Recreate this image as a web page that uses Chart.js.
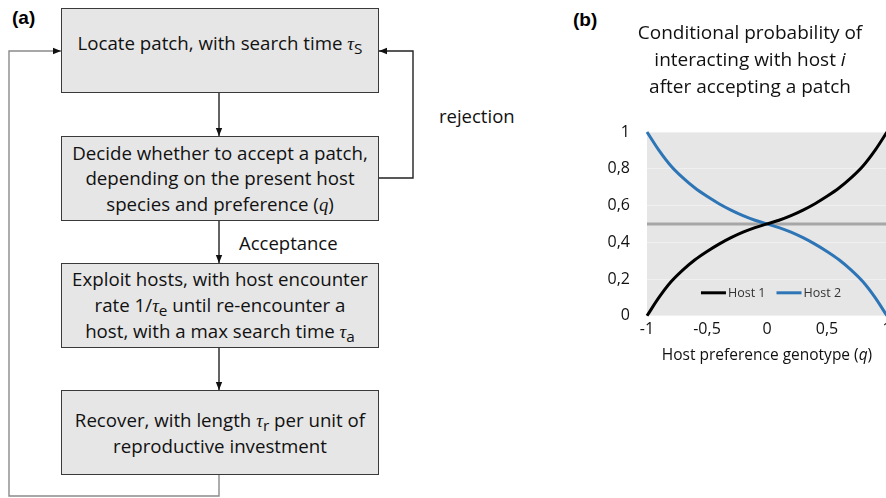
<!DOCTYPE html>
<html>
<head>
<meta charset="utf-8">
<script src="https://cdn.jsdelivr.net/npm/chart.js@4.4.0/dist/chart.umd.min.js"></script>
<style>
html, body { margin: 0; padding: 0; background: #fff; }
body { width: 886px; height: 498px; position: relative; overflow: hidden; font-family: 'Open Sans', sans-serif; color: #111; }
.panel-label { position: absolute; font-family: 'Liberation Sans', Arial, sans-serif; font-weight: bold; font-size: 19px; line-height: 24px; color: #000; }
.box { position: absolute; left: 61px; width: 318px; height: 85px; box-sizing: border-box; border: 1.5px solid #3a3a3a; background: #e6e6e6; display: flex; align-items: center; justify-content: center; text-align: center; font-size: 18.7px; line-height: 25.5px; }
.m { font-family: 'Liberation Serif', serif; font-style: italic; }
sub { font-size: 0.82em; line-height: 0; vertical-align: -0.28em; }
.note { position: absolute; font-size: 18.5px; line-height: 24px; }
#flow { position: absolute; left: 0; top: 0; }
#wrap { position: absolute; left: 596px; top: 0; width: 308px; height: 372px; }
</style>
</head>
<body>

<svg id="flow" width="560" height="498">
  <defs>
    <marker id="arr" viewBox="0 0 10 10" refX="10" refY="5" markerWidth="8" markerHeight="8" markerUnits="userSpaceOnUse" orient="auto">
      <path d="M0 1 L10 5 L0 9 z" fill="#111"/>
    </marker>
  </defs>
  <g fill="none" stroke="#222" stroke-width="1.4">
    <path d="M219 93 V136" marker-end="url(#arr)"/>
    <path d="M219 221 V263" marker-end="url(#arr)"/>
    <path d="M219 348 V390" marker-end="url(#arr)"/>
    <path d="M379 178 H413 V51 H379" marker-end="url(#arr)"/>
  </g>
  <path d="M219 475 V496 H9 V51 H61" fill="none" stroke="#8a8a8a" stroke-width="1.4" marker-end="url(#arr)"/>
</svg>

<div class="panel-label" style="left:12px; top:6px;">(a)</div>
<div class="panel-label" style="left:573px; top:8px;">(b)</div>

<div class="box" style="top:8px; align-items:flex-start; padding-top:21px;">
  <div>Locate patch, with search time <span class="m">τ</span><sub>S</sub></div>
</div>
<div class="box" style="top:136px;">
  <div>Decide whether to accept a patch,<br>depending on the present host<br>species and preference (<span class="m">q</span>)</div>
</div>
<div class="box" style="top:263px;">
  <div>Exploit hosts, with host encounter<br>rate 1/<span class="m">τ</span><sub>e</sub> until re-encounter a<br>host, with a max search time <span class="m">τ</span><sub>a</sub></div>
</div>
<div class="box" style="top:390px;">
  <div>Recover, with length <span class="m">τ</span><sub>r</sub> per unit of<br>reproductive investment</div>
</div>

<div class="note" style="left:439px; top:104px;">rejection</div>
<div class="note" style="left:239px; top:231px;">Acceptance</div>

<div id="wrap"><canvas id="grafico" width="308" height="372"></canvas></div>

<script>
// host preference genotype q and conditional probabilities
const qValues = [-1, -0.9, -0.8, -0.7, -0.6, -0.5, -0.4, -0.3, -0.2, -0.1, 0, 0.1, 0.2, 0.3, 0.4, 0.5, 0.6, 0.7, 0.8, 0.9, 1];
const host1 = [0, 0.10, 0.185, 0.25, 0.305, 0.35, 0.39, 0.425, 0.455, 0.48, 0.5, 0.52, 0.545, 0.575, 0.61, 0.65, 0.695, 0.75, 0.815, 0.90, 1];
const host2 = [1, 0.90, 0.815, 0.75, 0.695, 0.65, 0.61, 0.575, 0.545, 0.52, 0.5, 0.48, 0.455, 0.425, 0.39, 0.35, 0.305, 0.25, 0.185, 0.10, 0];
const equalQ = [-1, 1];
const equalLine = [0.5, 0.5];
const seriesNames = ['Host 1', 'Host 2'];
const seriesColors = ['#000000', '#2e75b6'];
const xTicks = [-1, -0.5, 0, 0.5, 1];
const yTicks = [0, 0.2, 0.4, 0.6, 0.8, 1];
const titleLines = [
    [{ t: 'Conditional probability of' }],
    [{ t: 'interacting with host ' }, { t: 'i', italic: true }],
    [{ t: 'after accepting a patch' }]
];
const xTitle = [{ t: 'Host preference genotype (' }, { t: 'q', italic: true }, { t: ')' }];

const FONT = "'Open Sans', sans-serif";
const comma = v => String(+Number(v).toFixed(1)).replace('.', ',');
const pts = (xs, ys) => xs.map((x, i) => ({ x: x, y: ys[i] }));

function drawRich(ctx, parts, cx, cy, size) {
    let w = 0;
    parts.forEach(p => {
        ctx.font = (p.italic ? 'italic ' : '') + size + 'px ' + FONT;
        p.w = ctx.measureText(p.t).width;
        w += p.w;
    });
    let x = cx - w / 2;
    parts.forEach(p => {
        ctx.font = (p.italic ? 'italic ' : '') + size + 'px ' + FONT;
        ctx.fillText(p.t, x, cy);
        x += p.w;
    });
}

const plotBackground = {
    id: 'plotBackground',
    beforeDraw(chart) {
        const { ctx, chartArea: a } = chart;
        ctx.save();
        ctx.fillStyle = '#e6e6e6';
        ctx.fillRect(a.left, a.top, a.width, a.height);
        ctx.restore();
    }
};

const textBits = {
    id: 'textBits',
    afterDraw(chart) {
        const { ctx, chartArea: a } = chart;
        ctx.save();
        ctx.fillStyle = '#111';
        ctx.textAlign = 'left';
        ctx.textBaseline = 'middle';
        titleLines.forEach((line, i) => drawRich(ctx, line, chart.width / 2, 34 + i * 27, 19));
        drawRich(ctx, xTitle, (a.left + a.right) / 2, 356, 15.5);

        // legend inside the plot, bottom centre
        const y = a.bottom - 23;
        ctx.font = '12.5px ' + FONT;
        const items = chart.data.datasets.filter(d => seriesNames.includes(d.label));
        const widths = items.map(d => 27 + ctx.measureText(d.label).width);
        const total = widths.reduce((s, w) => s + w, 0) + 11 * (items.length - 1);
        let x = (a.left + a.right) / 2 + 4 - total / 2;
        items.forEach((d, i) => {
            ctx.strokeStyle = d.borderColor;
            ctx.lineWidth = 3;
            ctx.beginPath();
            ctx.moveTo(x, y);
            ctx.lineTo(x + 25, y);
            ctx.stroke();
            ctx.fillStyle = '#333';
            ctx.fillText(d.label, x + 27, y + 1);
            x += widths[i] + 11;
        });
        ctx.restore();
    }
};

new Chart(document.getElementById('grafico').getContext('2d'), {
    type: 'line',
    data: {
        datasets: [
            {
                label: seriesNames[0],
                data: pts(qValues, host1),
                borderColor: seriesColors[0],
                borderWidth: 3,
                pointRadius: 0,
                cubicInterpolationMode: 'monotone',
                clip: 4,
                order: 1
            },
            {
                label: seriesNames[1],
                data: pts(qValues, host2),
                borderColor: seriesColors[1],
                borderWidth: 3,
                pointRadius: 0,
                cubicInterpolationMode: 'monotone',
                clip: 4,
                order: 2
            },
            {
                label: 'equal',
                data: pts(equalQ, equalLine),
                borderColor: '#a6a6a6',
                borderWidth: 3,
                pointRadius: 0,
                order: 3
            }
        ]
    },
    options: {
        responsive: false,
        animation: false,
        devicePixelRatio: 1,
        layout: { padding: { top: 132, right: 17, bottom: 29, left: 0 } },
        plugins: {
            legend: { display: false },
            title: { display: false },
            tooltip: { enabled: false }
        },
        scales: {
            x: {
                type: 'linear',
                min: -1,
                max: 1,
                afterBuildTicks: s => { s.ticks = xTicks.map(v => ({ value: v })); },
                grid: { display: false, drawTicks: false },
                border: { display: false },
                ticks: {
                    padding: 4,
                    color: '#111',
                    font: { family: FONT, size: 16 },
                    maxRotation: 0,
                    autoSkip: false,
                    callback: v => comma(v)
                }
            },
            y: {
                min: 0,
                max: 1,
                afterBuildTicks: s => { s.ticks = yTicks.map(v => ({ value: v })); },
                afterFit: s => { s.width = 51; },
                grid: { color: '#f0f0f0', lineWidth: 1, drawTicks: false },
                border: { display: false },
                ticks: {
                    padding: 17,
                    color: '#111',
                    font: { family: FONT, size: 16 },
                    callback: v => comma(v)
                }
            }
        }
    },
    plugins: [plotBackground, textBits]
});
</script>
</body>
</html>
